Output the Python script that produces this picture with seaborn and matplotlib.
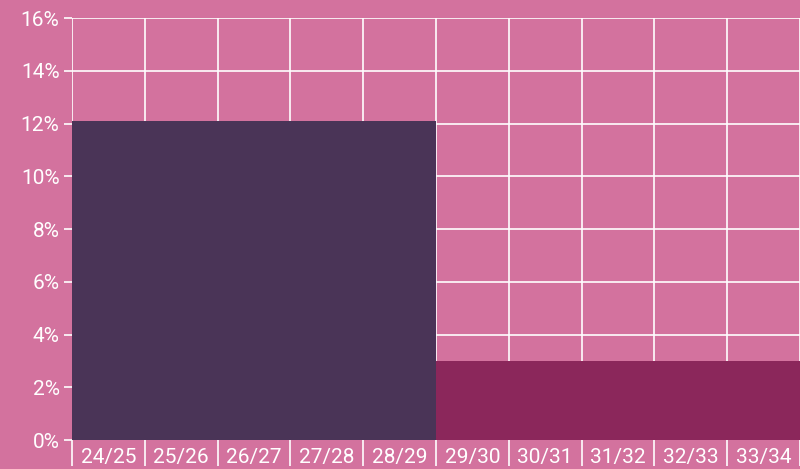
import matplotlib
matplotlib.use("Agg")
import matplotlib.pyplot as plt
import seaborn as sns
import pandas as pd
import numpy as np
from matplotlib.ticker import FixedLocator, PercentFormatter

categories = ["24/25", "25/26", "26/27", "27/28", "28/29",
              "29/30", "30/31", "31/32", "32/33", "33/34"]
values = [12.1, 12.1, 12.1, 12.1, 12.1, 3.0, 3.0, 3.0, 3.0, 3.0]
period = ["A", "A", "A", "A", "A", "B", "B", "B", "B", "B"]
palette = {"A": "#4A3457", "B": "#8B275B"}
yticks = [0, 2, 4, 6, 8, 10, 12, 14, 16]

bg = "#D3729E"
sns.set_theme(style="white")
plt.rcParams['font.family'] = ['Roboto', 'DejaVu Sans']

df = pd.DataFrame({"cat": categories, "val": values, "period": period})

fig = plt.figure(figsize=(8, 4.69), dpi=100, facecolor=bg)
ax = fig.add_axes([0.09, 0.0618, 0.91, 0.8998])
ax.set_facecolor(bg)

sns.barplot(data=df, x="cat", y="val", hue="period", palette=palette,
            width=1.0, dodge=False, legend=False, saturation=1.0,
            linewidth=0, ax=ax, zorder=3)

n = len(categories)
ax.set_xlim(-0.5, n - 0.5)
ax.set_ylim(0, 16)
ax.set_yticks(yticks)
ax.yaxis.set_major_formatter(PercentFormatter(decimals=0))

ax.xaxis.set_minor_locator(FixedLocator(np.arange(-0.5, n, 1.0)))
ax.grid(False)
ax.grid(axis="y", which="major", color="white", linewidth=1.2, zorder=1)
ax.grid(axis="x", which="minor", color="white", linewidth=1.2, zorder=1)
ax.set_axisbelow(True)

ax.tick_params(axis="x", which="major", length=0, pad=6, labelsize=15, labelcolor="white")
ax.tick_params(axis="x", which="minor", length=19, width=1.2, color="white", bottom=True)
ax.tick_params(axis="y", which="major", length=6, width=1.2, color="white",
               labelsize=15, labelcolor="white", left=True, pad=3)

for s in ax.spines.values():
    s.set_visible(False)
ax.set_xlabel("")
ax.set_ylabel("")

fig.savefig("out.png", dpi=100, facecolor=bg)
